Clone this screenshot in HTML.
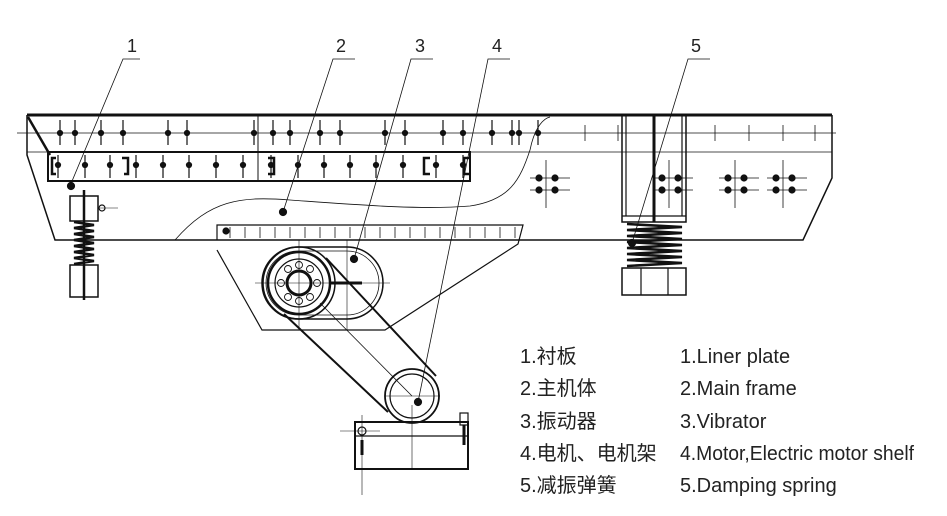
<!DOCTYPE html>
<html><head><meta charset="utf-8"><style>
html,body{margin:0;padding:0;background:#fff;}
svg{display:block}
text{font-family:"Liberation Sans","Noto Sans CJK SC",sans-serif;fill:#222}
</style></head><body>
<svg width="947" height="516" viewBox="0 0 947 516" xmlns="http://www.w3.org/2000/svg">
<g fill="none" stroke="#111" stroke-width="1.2">
<line x1="27" y1="115" x2="832" y2="115" stroke-width="3"/>
<line x1="17" y1="133" x2="836" y2="133" stroke-width="0.8"/>
<line x1="27" y1="152" x2="832" y2="152" stroke-width="0.8"/>
<polyline points="27,115 27,155 55,240 803,240 832,178 832,115" stroke-width="1.5"/>
<line x1="28" y1="117" x2="50" y2="155" stroke-width="2.5"/>
<rect x="48" y="152" width="422" height="29" stroke-width="2"/>
<line x1="258" y1="115" x2="258" y2="181" stroke-width="1"/>
<path d="M175,240 C210,200 240,196 290,200 C360,205 420,210 470,206 C510,200 520,180 530,150 C535,125 545,118 550,117" stroke-width="0.8"/>
<rect x="622" y="115" width="64" height="107" stroke-width="1.5"/>
<line x1="626" y1="115" x2="626" y2="216"/>
<line x1="682" y1="115" x2="682" y2="216"/>
<line x1="622" y1="216" x2="686" y2="216"/>
<line x1="654" y1="115" x2="654" y2="222" stroke-width="3"/>
<polyline points="217,240 217,225 523,225 518,244 385,330 262,330 217,250"/>
<rect x="262" y="247" width="121" height="72" rx="36" stroke-width="1.5"/>
<rect x="266" y="251" width="113" height="64" rx="32" stroke-width="0.8"/>
<circle cx="299" cy="283" r="36" stroke-width="1.5"/>
<circle cx="299" cy="283" r="31" stroke-width="2.5"/>
<circle cx="299" cy="283" r="24"/>
<circle cx="299" cy="283" r="12" stroke-width="3"/>
<g stroke-width="0.9">
<circle cx="299" cy="265" r="3.5"/><circle cx="299" cy="301" r="3.5"/><circle cx="281" cy="283" r="3.5"/><circle cx="317" cy="283" r="3.5"/>
<circle cx="288" cy="269" r="3.5"/><circle cx="310" cy="269" r="3.5"/><circle cx="288" cy="297" r="3.5"/><circle cx="310" cy="297" r="3.5"/>
</g>
<line x1="330" y1="283" x2="362" y2="283" stroke-width="3"/>
<line x1="255" y1="283" x2="390" y2="283" stroke-width="0.6"/>
<line x1="299" y1="240" x2="299" y2="330" stroke-width="0.6"/>
<line x1="347" y1="240" x2="347" y2="330" stroke-width="0.6"/>
<line x1="284" y1="314" x2="388" y2="412" stroke-width="2"/>
<line x1="326" y1="258" x2="436" y2="376" stroke-width="2"/>
<line x1="320" y1="303" x2="412" y2="396" stroke-width="0.8"/>
<circle cx="412" cy="396" r="27" stroke-width="1.8"/>
<circle cx="412" cy="396" r="22"/>
<line x1="385" y1="396" x2="440" y2="396" stroke-width="0.6"/>
<rect x="355" y="422" width="113" height="47" stroke-width="2"/>
<line x1="355" y1="436" x2="468" y2="436"/>
<rect x="460" y="413" width="8" height="12"/>
<line x1="464" y1="425" x2="464" y2="445" stroke-width="3"/>
<line x1="362" y1="440" x2="362" y2="455" stroke-width="3"/>
<line x1="412" y1="405" x2="412" y2="470" stroke-width="0.6"/>
<line x1="362" y1="415" x2="362" y2="495" stroke-width="0.6"/>
<line x1="340" y1="431" x2="380" y2="431" stroke-width="0.6"/>
<circle cx="362" cy="431" r="4"/>
<rect x="70" y="196" width="28" height="25" stroke-width="1.5"/>
<rect x="70" y="265" width="28" height="32" stroke-width="1.5"/>
<line x1="84" y1="190" x2="84" y2="300" stroke-width="2.5"/>
<line x1="98" y1="208" x2="118" y2="208" stroke-width="0.6"/>
<circle cx="102" cy="208" r="3"/>
<rect x="622" y="268" width="64" height="27" stroke-width="1.5"/>
<line x1="641" y1="268" x2="641" y2="295"/>
<line x1="668" y1="268" x2="668" y2="295"/>
</g>
<g fill="none" stroke="#111" stroke-width="2.5">
<path d="M74,222 L94,225 L74,228 L94,231 L74,234 L94,237 L74,240 L94,243 L74,246 L94,249 L74,252 L94,255 L74,258 L94,261 L74,264"/>
<path d="M627,224 L682,227 L627,230 L682,233 L627,236 L682,239 L627,242 L682,245 L627,248 L682,251 L627,254 L682,257 L627,260 L682,263 L627,266"/>
</g>
<g stroke="#111" stroke-width="1.2" fill="#111">
<g id="tk"><line x1="60" y1="120" x2="60" y2="145"/><circle cx="60" cy="133" r="2.5"/></g>
<use href="#tk" x="15"/><use href="#tk" x="41"/><use href="#tk" x="63"/><use href="#tk" x="108"/><use href="#tk" x="127"/><use href="#tk" x="194"/><use href="#tk" x="213"/><use href="#tk" x="230"/><use href="#tk" x="260"/><use href="#tk" x="280"/><use href="#tk" x="325"/><use href="#tk" x="345"/><use href="#tk" x="383"/><use href="#tk" x="403"/><use href="#tk" x="432"/><use href="#tk" x="452"/><use href="#tk" x="478"/>
<g id="tk2"><line x1="58" y1="155" x2="58" y2="178"/><circle cx="58" cy="165" r="2.5"/></g>
<use href="#tk2" x="27"/><use href="#tk2" x="52"/><use href="#tk2" x="78"/><use href="#tk2" x="105"/><use href="#tk2" x="131"/><use href="#tk2" x="158"/><use href="#tk2" x="185"/><use href="#tk2" x="213"/><use href="#tk2" x="240"/><use href="#tk2" x="266"/><use href="#tk2" x="292"/><use href="#tk2" x="318"/><use href="#tk2" x="345"/><use href="#tk2" x="378"/><use href="#tk2" x="405"/>
<g fill="none" stroke-width="2.5">
<path d="M56,158 h-4 v16 h4"/><path d="M122,158 h6 v16 h-4"/><path d="M268,158 h6 v16 h-6"/><path d="M430,158 h-6 v16 h6"/><path d="M470,158 h-6 v16 h6"/>
</g>
<g id="bolt">
<line x1="530" y1="178" x2="570" y2="178" stroke-width="0.8"/><line x1="530" y1="190" x2="570" y2="190" stroke-width="0.8"/>
<line x1="546" y1="160" x2="546" y2="208" stroke-width="0.8"/>
<circle cx="539" cy="178" r="3"/><circle cx="555" cy="178" r="3"/><circle cx="539" cy="190" r="3"/><circle cx="555" cy="190" r="3"/>
</g>
<use href="#bolt" x="123"/><use href="#bolt" x="189"/><use href="#bolt" x="237"/>
<g stroke-width="0.8"><line x1="715" y1="125" x2="715" y2="141"/><line x1="749" y1="125" x2="749" y2="141"/><line x1="783" y1="125" x2="783" y2="141"/><line x1="815" y1="125" x2="815" y2="141"/><line x1="585" y1="125" x2="585" y2="141"/><line x1="618" y1="125" x2="618" y2="141"/></g>
<line x1="519" y1="120" x2="519" y2="145"/><circle cx="519" cy="133" r="2.5"/>
<g stroke-width="0.8">
<line x1="230" y1="227" x2="230" y2="238"/><line x1="245" y1="227" x2="245" y2="238"/><line x1="260" y1="227" x2="260" y2="238"/><line x1="275" y1="227" x2="275" y2="238"/><line x1="290" y1="227" x2="290" y2="238"/><line x1="305" y1="227" x2="305" y2="238"/><line x1="320" y1="227" x2="320" y2="238"/><line x1="335" y1="227" x2="335" y2="238"/><line x1="350" y1="227" x2="350" y2="238"/><line x1="365" y1="227" x2="365" y2="238"/><line x1="380" y1="227" x2="380" y2="238"/><line x1="395" y1="227" x2="395" y2="238"/><line x1="410" y1="227" x2="410" y2="238"/><line x1="425" y1="227" x2="425" y2="238"/><line x1="440" y1="227" x2="440" y2="238"/><line x1="455" y1="227" x2="455" y2="238"/><line x1="470" y1="227" x2="470" y2="238"/><line x1="485" y1="227" x2="485" y2="238"/><line x1="500" y1="227" x2="500" y2="238"/><line x1="515" y1="227" x2="515" y2="238"/>
</g>
<circle cx="226" cy="231" r="3"/>
<g stroke-width="0.8">
<polyline points="140,59 123,59 70,186" fill="none"/>
<polyline points="355,59 333,59 283,212" fill="none"/>
<polyline points="433,59 411,59 354,259" fill="none"/>
<polyline points="510,59 488,59 418,402" fill="none"/>
<polyline points="710,59 688,59 632,243" fill="none"/>
</g>
<circle cx="71" cy="186" r="3.5"/><circle cx="283" cy="212" r="3.5"/><circle cx="354" cy="259" r="3.5"/><circle cx="418" cy="402" r="3.5"/><circle cx="632" cy="243" r="3.5"/>
</g>
<g font-size="18">
<text x="127" y="52">1</text><text x="336" y="52">2</text><text x="415" y="52">3</text><text x="492" y="52">4</text><text x="691" y="52">5</text>
</g>
<g font-size="20">
<text x="520" y="363">1.衬板</text><text x="680" y="363">1.Liner plate</text>
<text x="520" y="395">2.主机体</text><text x="680" y="395">2.Main frame</text>
<text x="520" y="428">3.振动器</text><text x="680" y="428">3.Vibrator</text>
<text x="520" y="460">4.电机、电机架</text><text x="680" y="460" textLength="234" lengthAdjust="spacingAndGlyphs">4.Motor,Electric motor shelf</text>
<text x="520" y="492">5.减振弹簧</text><text x="680" y="492">5.Damping spring</text>
</g>
</svg>
</body></html>
